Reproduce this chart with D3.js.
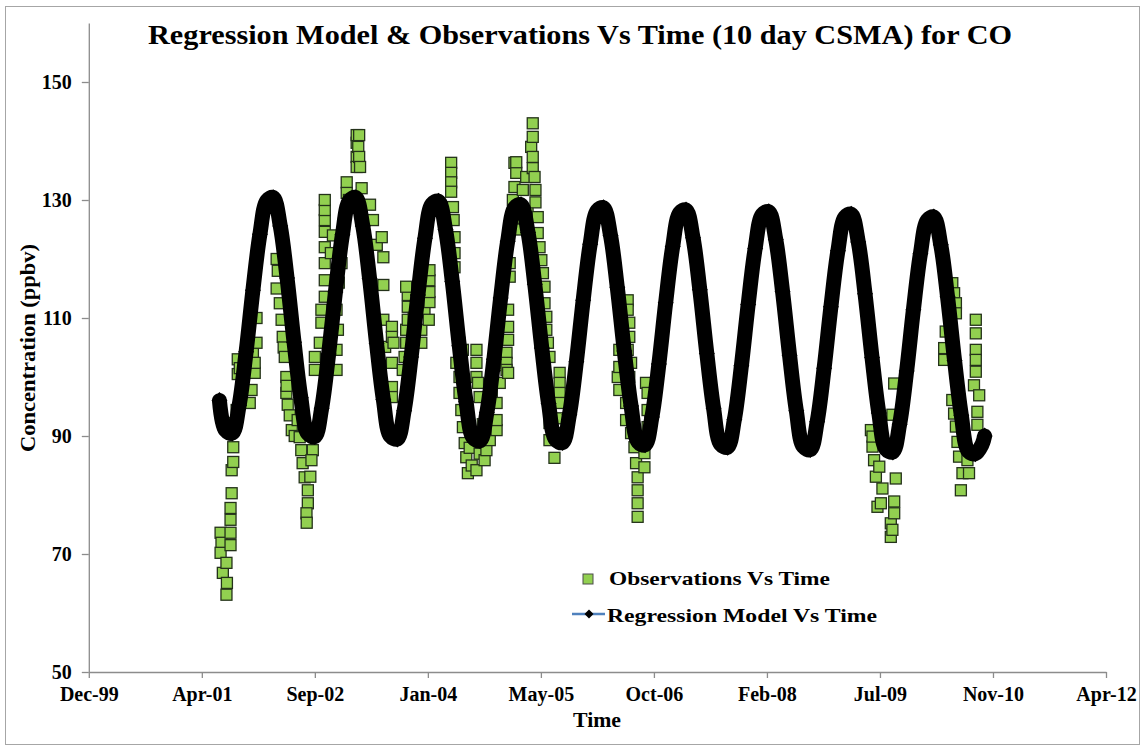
<!DOCTYPE html>
<html>
<head>
<meta charset="utf-8">
<script src="https://d3js.org/d3.v7.min.js"></script>
<style>
  body { margin: 0; background: #fff; }
  text { font-family: "Liberation Serif", "Times New Roman", serif; font-weight: bold; fill: #000; }
</style>
</head>
<body>
<svg id="chart" width="1146" height="750"></svg>
<script>
// axis setup
var xTicks = ["1999-12-06","2001-04-19","2002-09-01","2004-01-14","2005-05-28","2006-10-10","2008-02-22","2009-07-06","2010-11-18","2012-04-01"];
var yTicks = [50, 70, 90, 110, 130, 150];
var yRange = [50, 160];

// observations (10 day CSMA)
var observations = [
  ["2001-07-11",73.6],["2001-07-15",71.9],["2001-07-11",70.2],["2001-07-21",66.8],["2001-08-06",68.5],["2001-08-08",65.1],
  ["2001-08-06",63.1],["2001-08-24",75.8],["2001-08-24",73.6],["2001-08-24",71.5],["2001-08-24",77.8],["2001-08-29",80.3],
  ["2001-08-29",84.2],["2001-09-05",85.6],["2001-09-05",88.1],["2001-09-08",92.2],["2001-09-20",94.4],["2001-09-25",100.5],
  ["2001-09-25",103.0],["2001-10-04",101.5],["2001-11-17",95.6],["2001-11-25",97.8],["2001-12-01",104.0],["2001-12-09",100.7],
  ["2001-12-09",102.4],["2001-12-17",105.8],["2001-12-17",110.0],
  ["2002-03-16",120.0],["2002-03-21",118.0],["2002-03-16",115.0],["2002-03-30",112.5],["2002-04-07",109.7],["2002-04-12",106.8],
  ["2002-04-16",105.0],["2002-04-21",103.4],["2002-04-28",100.0],["2002-04-28",97.3],["2002-04-29",98.5],["2002-05-04",95.3],
  ["2002-05-13",93.5],["2002-05-22",91.0],["2002-06-04",90.0],["2002-06-17",92.7],["2002-06-26",89.8],["2002-07-03",87.6],
  ["2002-07-09",85.4],["2002-07-18",83.0],["2002-08-01",80.8],["2002-08-01",78.6],["2002-07-26",76.9],["2002-07-27",75.3],
  ["2002-08-23",87.6],["2002-08-17",85.9],["2002-08-12",83.1],
  ["2002-09-01",101.2],["2002-09-01",103.4],["2002-09-23",105.8],["2002-09-30",109.2],["2002-09-30",111.4],["2002-10-15",113.6],
  ["2002-10-15",116.4],["2002-10-15",119.3],["2002-10-15",122.0],["2002-10-15",124.6],["2002-10-15",126.6],["2002-10-15",128.3],
  ["2002-10-15",130.0],["2002-11-11",121.0],["2002-11-20",124.0],["2002-12-06",104.6],["2002-12-06",101.2],["2002-12-12",108.0],
  ["2002-12-06",111.4],["2002-12-16",116.0],["2002-12-28",119.3],
  ["2003-01-08",126.0],["2003-01-20",133.0],["2003-01-20",131.2],["2003-01-30",130.0],["2003-02-11",128.8],["2003-03-05",139.7],
  ["2003-03-05",141.0],["2003-03-05",137.3],["2003-03-05",135.6],["2003-03-12",139.0],["2003-03-16",141.0],["2003-03-16",137.3],
  ["2003-03-20",135.6],["2003-03-27",132.0],["2003-05-03",129.2],["2003-05-16",126.6],["2003-06-02",122.4],["2003-06-24",123.7],
  ["2003-07-01",120.3],["2003-07-01",115.6],["2003-07-01",109.7],["2003-07-09",105.1],["2003-08-08",108.5],["2003-08-08",106.8],
  ["2003-08-15",105.8],["2003-08-08",102.4],["2003-08-08",98.3],["2003-08-08",96.6],
  ["2003-09-25",101.2],["2003-10-03",103.4],["2003-10-10",105.8],["2003-10-10",108.0],["2003-10-17",109.7],["2003-10-17",111.9],
  ["2003-10-17",113.9],["2003-10-10",115.3],["2003-11-12",110.0],["2003-11-25",113.0],["2003-12-16",105.8],["2003-12-16",108.0],
  ["2003-12-30",111.0],
  ["2004-01-08",115.0],["2004-01-18",109.7],["2004-01-21",112.7],["2004-01-21",114.4],["2004-01-21",116.4],["2004-01-21",118.1],
  ["2004-04-26",136.3],["2004-04-26",134.6],["2004-04-26",133.0],["2004-04-26",131.4],["2004-05-04",128.8],["2004-05-07",126.6],
  ["2004-05-11",123.7],["2004-05-11",121.0],["2004-05-11",118.6],["2004-05-19",102.4],["2004-06-02",105.8],["2004-06-17",104.6],
  ["2004-06-02",100.0],["2004-06-02",97.3],["2004-06-10",94.4],["2004-06-17",91.5],["2004-06-25",88.8],["2004-07-02",86.4],
  ["2004-07-09",83.7],["2004-07-17",88.0],["2004-07-26",85.0],["2004-08-16",84.2],["2004-08-16",104.6],["2004-08-16",102.4],
  ["2004-08-16",100.0],["2004-08-23",99.0],["2004-08-30",96.6],["2004-08-30",87.0],["2004-09-13",92.0],["2004-09-21",85.9],
  ["2004-09-29",87.6],["2004-10-05",95.0],["2004-10-14",89.3],["2004-10-23",97.0],["2004-11-13",91.0],["2004-11-13",92.7],
  ["2004-11-13",95.6],["2004-11-27",99.0],["2004-12-10",102.0],["2004-12-27",104.1],["2004-12-27",102.4],["2004-12-27",101.2],
  ["2005-01-03",100.7],["2005-01-03",108.5],["2005-01-03",106.3],["2005-01-03",111.4],["2005-01-10",117.0],["2005-01-10",119.3],
  ["2005-01-24",130.0],["2005-01-31",132.2],["2005-01-31",136.3],["2005-02-08",134.6],["2005-02-08",136.4],["2005-02-18",127.0],
  ["2005-02-27",125.0],["2005-03-09",131.7],["2005-03-24",133.9],["2005-03-30",128.0],["2005-04-15",139.0],["2005-04-22",143.0],
  ["2005-04-22",140.7],["2005-04-22",137.3],["2005-04-22",135.4],["2005-04-30",133.9],["2005-05-04",131.7],["2005-05-04",129.6],
  ["2005-05-14",127.1],["2005-05-14",124.4],["2005-05-22",122.0],["2005-05-30",119.8],["2005-06-06",117.6],["2005-06-13",115.3],
  ["2005-06-13",112.5],["2005-06-21",110.2],["2005-06-21",108.0],["2005-06-28",105.8],["2005-07-05",103.4],["2005-07-05",92.2],
  ["2005-07-05",89.3],["2005-07-27",86.3],["2005-08-05",90.5],["2005-08-12",93.0],["2005-08-19",100.7],["2005-08-19",99.0],
  ["2005-08-19",97.3],["2005-08-19",95.6],
  ["2006-05-03",100.0],["2006-05-10",104.6],["2006-05-10",101.7],["2006-05-10",97.8],["2006-06-09",95.6],["2006-06-09",92.7],
  ["2006-06-16",113.0],["2006-06-16",111.4],["2006-06-16",104.6],["2006-06-23",109.2],["2006-06-23",106.8],["2006-06-23",100.0],
  ["2006-07-01",102.4],["2006-07-01",90.5],["2006-07-16",88.1],["2006-07-23",85.4],["2006-07-30",83.0],["2006-07-30",80.8],
  ["2006-07-30",78.6],["2006-07-30",76.3],["2006-08-29",84.7],["2006-08-29",87.1],["2006-09-05",89.3],["2006-09-05",99.0],
  ["2006-09-12",91.5],["2006-09-12",94.4],["2006-09-12",97.3],
  ["2009-05-27",91.0],["2009-06-03",88.2],["2009-06-03",89.9],["2009-06-10",85.9],["2009-06-18",83.1],["2009-06-25",78.0],
  ["2009-07-03",84.8],["2009-07-10",78.6],["2009-07-17",81.1],["2009-08-23",75.2],["2009-08-23",72.9],["2009-08-30",74.1],
  ["2009-08-30",93.6],["2009-09-07",98.9],["2009-09-07",78.9],["2009-09-07",76.9],["2009-09-14",82.8],
  ["2010-04-16",104.9],["2010-04-16",102.9],["2010-04-23",107.7],["2010-05-22",115.9],["2010-05-30",114.2],["2010-06-07",112.5],
  ["2010-06-07",110.8],["2010-05-22",96.1],["2010-05-30",93.8],["2010-06-07",91.6],["2010-06-14",89.0],["2010-06-21",86.5],
  ["2010-06-29",80.8],["2010-07-06",83.7],["2010-07-28",85.9],["2010-08-04",83.7],["2010-08-26",98.6],["2010-09-03",109.7],
  ["2010-09-03",107.4],["2010-09-03",104.6],["2010-09-03",102.9],["2010-09-03",100.9],["2010-09-10",94.1],["2010-09-10",91.9],
  ["2010-09-18",96.9]
];

// regression model, monthly readings
var regression = [
  ["2001-07-06",96.0],["2001-08-01",91.0],["2001-09-01",90.5],["2001-10-01",95.2],["2001-11-01",104.3],["2001-12-01",114.7],
  ["2002-01-01",124.2],["2002-02-01",129.9],["2002-03-01",130.4],["2002-04-01",125.6],["2002-05-01",116.8],["2002-06-01",105.9],
  ["2002-07-01",96.5],["2002-08-01",90.4],["2002-09-01",89.9],["2002-10-01",94.7],["2002-11-01",103.9],["2002-12-01",114.4],
  ["2003-01-01",124.1],["2003-02-01",129.9],["2003-03-01",130.4],["2003-04-01",125.6],["2003-05-01",116.7],["2003-06-01",105.7],
  ["2003-07-01",96.2],["2003-08-01",90.0],["2003-09-01",89.5],["2003-10-01",94.3],["2003-11-01",103.4],["2003-12-01",113.9],
  ["2004-01-01",123.5],["2004-02-01",129.3],["2004-03-01",129.8],["2004-04-01",125.0],["2004-05-01",116.2],["2004-06-01",105.3],
  ["2004-07-01",95.8],["2004-08-01",89.7],["2004-09-01",89.2],["2004-10-01",94.0],["2004-11-01",103.0],["2004-12-01",113.4],
  ["2005-01-01",123.0],["2005-02-01",128.7],["2005-03-01",129.2],["2005-04-01",124.5],["2005-05-01",115.7],["2005-06-01",104.9],
  ["2005-07-01",95.5],["2005-08-01",89.4],["2005-09-01",88.9],["2005-10-01",93.6],["2005-11-01",102.6],["2005-12-01",113.0],
  ["2006-01-01",122.5],["2006-02-01",128.2],["2006-03-01",128.7],["2006-04-01",124.0],["2006-05-01",115.2],["2006-06-01",104.4],
  ["2006-07-01",95.1],["2006-08-01",89.0],["2006-09-01",88.5],["2006-10-01",93.2],["2006-11-01",102.2],["2006-12-01",112.6],
  ["2007-01-01",122.1],["2007-02-01",127.8],["2007-03-01",128.3],["2007-04-01",123.6],["2007-05-01",114.8],["2007-06-01",104.0],
  ["2007-07-01",94.7],["2007-08-01",88.6],["2007-09-01",88.1],["2007-10-01",92.8],["2007-11-01",101.9],["2007-12-01",112.3],
  ["2008-01-01",121.8],["2008-02-01",127.5],["2008-03-01",128.0],["2008-04-01",123.3],["2008-05-01",114.5],["2008-06-01",103.7],
  ["2008-07-01",94.3],["2008-08-01",88.2],["2008-09-01",87.7],["2008-10-01",92.4],["2008-11-01",101.5],["2008-12-01",111.9],
  ["2009-01-01",121.4],["2009-02-01",127.1],["2009-03-01",127.6],["2009-04-01",122.9],["2009-05-01",114.1],["2009-06-01",103.3],
  ["2009-07-01",93.9],["2009-08-01",87.8],["2009-09-01",87.3],["2009-10-01",92.0],["2009-11-01",101.0],["2009-12-01",111.4],
  ["2010-01-01",120.9],["2010-02-01",126.6],["2010-03-01",127.1],["2010-04-01",122.4],["2010-05-01",113.6],["2010-06-01",102.8],
  ["2010-07-01",93.5],["2010-08-01",87.4],["2010-09-01",87.0],["2010-10-01",88.6],["2010-10-12",90.0]
];

var parse = d3.timeParse("%Y-%m-%d");
var fmt = d3.timeFormat("%b-%y");

var svg = d3.select("#chart");
var margin = {top: 23, left: 88.8, right: 40, bottom: 78};
var W = 1146, H = 750;

svg.append("rect").attr("width", W).attr("height", H).attr("fill", "#fff");
svg.append("rect")
  .attr("x", 5.5).attr("y", 6.5).attr("width", 1134).attr("height", 738)
  .attr("fill", "none").attr("stroke", "#a6a6a6").attr("stroke-width", 1);

var tickDates = xTicks.map(parse);
var x = d3.scaleTime()
  .domain([tickDates[0], tickDates[tickDates.length - 1]])
  .range([margin.left, W - margin.right]);
var y = d3.scaleLinear()
  .domain(yRange)
  .range([H - margin.bottom, margin.top]);

// axes
var xAxis = svg.append("g")
  .attr("transform", "translate(0," + y(yRange[0]) + ")")
  .call(d3.axisBottom(x).tickValues(tickDates).tickFormat(fmt).tickSize(6).tickSizeOuter(0).tickPadding(9));
var yAxis = svg.append("g")
  .attr("transform", "translate(" + margin.left + ",0)")
  .call(d3.axisLeft(y).tickValues(yTicks).tickSize(7).tickSizeOuter(0).tickPadding(10));

[xAxis, yAxis].forEach(function(g) {
  g.selectAll("path, line").attr("stroke", "#8c8c8c").attr("stroke-width", 1.3);
  g.selectAll("text").attr("font-size", "20px").attr("font-family", null).attr("fill", "#000");
});

// observations
var sq = 11;
svg.append("g").selectAll("rect")
  .data(observations)
  .enter().append("rect")
  .attr("x", function(d) { return x(parse(d[0])) - sq / 2; })
  .attr("y", function(d) { return y(d[1]) - sq / 2; })
  .attr("width", sq).attr("height", sq)
  .attr("fill", "#92d050")
  .attr("stroke", "#24321a")
  .attr("stroke-width", 1.3);

// regression model: thick band of black diamonds
var line = d3.line()
  .x(function(d) { return x(parse(d[0])); })
  .y(function(d) { return y(d[1]); })
  .curve(d3.curveCatmullRom.alpha(0.5));

svg.append("path")
  .datum(regression)
  .attr("d", line)
  .attr("fill", "none")
  .attr("stroke", "#000")
  .attr("stroke-width", 15)
  .attr("stroke-linejoin", "round")
  .attr("stroke-linecap", "round");

var diamond = "M0,-8.5L8,0L0,8.5L-8,0Z";
svg.append("g").selectAll("path")
  .data(regression)
  .enter().append("path")
  .attr("d", diamond)
  .attr("transform", function(d) { return "translate(" + x(parse(d[0])) + "," + y(d[1]) + ")"; })
  .attr("fill", "#000");

// titles
svg.append("text")
  .attr("x", 580).attr("y", 44)
  .attr("text-anchor", "middle")
  .attr("font-size", "27px")
  .attr("textLength", 864).attr("lengthAdjust", "spacingAndGlyphs")
  .text("Regression Model & Observations Vs Time (10 day CSMA) for CO");

svg.append("text")
  .attr("transform", "translate(35,348) rotate(-90)")
  .attr("text-anchor", "middle")
  .attr("font-size", "20px")
  .attr("textLength", 208).attr("lengthAdjust", "spacingAndGlyphs")
  .text("Concentration (ppbv)");

svg.append("text")
  .attr("x", 597).attr("y", 727)
  .attr("text-anchor", "middle")
  .attr("font-size", "20px")
  .attr("textLength", 48).attr("lengthAdjust", "spacingAndGlyphs")
  .text("Time");

// legend
var lg = svg.append("g");
lg.append("rect")
  .attr("x", 583).attr("y", 574).attr("width", 10).attr("height", 10)
  .attr("fill", "#92d050").attr("stroke", "#4d4d4d").attr("stroke-width", 1);
lg.append("text").attr("x", 609).attr("y", 585).attr("font-size", "19px")
  .attr("textLength", 221).attr("lengthAdjust", "spacingAndGlyphs")
  .text("Observations Vs Time");
lg.append("line")
  .attr("x1", 572).attr("x2", 605).attr("y1", 614).attr("y2", 614)
  .attr("stroke", "#4f81bd").attr("stroke-width", 2.5);
lg.append("path")
  .attr("d", "M0,-4.5L4.5,0L0,4.5L-4.5,0Z")
  .attr("transform", "translate(589,614)")
  .attr("fill", "#000");
lg.append("text").attr("x", 607).attr("y", 622).attr("font-size", "19px")
  .attr("textLength", 270).attr("lengthAdjust", "spacingAndGlyphs")
  .text("Regression Model Vs Time");
</script>
</body>
</html>
